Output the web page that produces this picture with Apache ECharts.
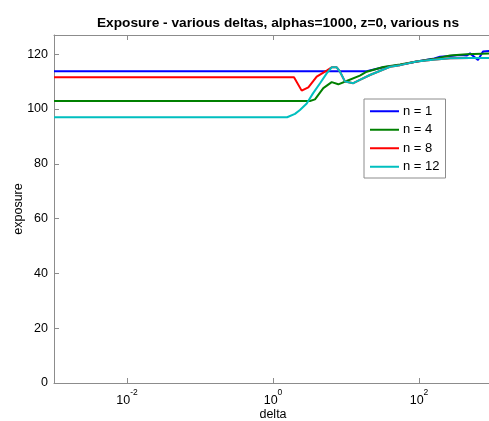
<!DOCTYPE html>
<html>
<head>
<meta charset="utf-8">
<script src="https://cdn.jsdelivr.net/npm/echarts@6/dist/echarts.min.js"></script>
<style>
  html, body { margin: 0; padding: 0; background: #fff; }
  #chart { width: 489px; height: 421px; }
</style>
</head>
<body>
<div id="chart"></div>
<script>
// legend names
const seriesNames = ['n = 1', 'n = 4', 'n = 8', 'n = 12']
const seriesColors = ['#0000ff', '#008000', '#ff0000', '#00bfbf']

// n = 1
const n1Delta = [0.001, 19.2, 32.5, 55, 93, 155, 194, 266, 365, 450, 500, 643, 753, 1000]
const n1Exposure = [113.8, 113.8, 115.2, 116.1, 117.3, 118.3, 119.1, 119.3, 119.7, 119.5, 120.3, 117.9, 121.0, 121.3]

// n = 4
const n4Delta = [0.001, 3.21, 3.76, 4.89, 6.37, 7.85, 10.2, 15.5, 19.2, 32.5, 55, 93, 155, 266, 450, 1000]
const n4Exposure = [102.9, 102.9, 103.5, 107.6, 109.8, 109.0, 110.2, 112.2, 113.6, 115.3, 116.2, 117.3, 118.2, 119.5, 120.0, 120.3]

// n = 8
const n8Delta = [0.001, 1.94, 2.47, 3.05, 3.97, 5.44, 6.37, 7.46, 8.28, 9.69, 12.6, 15.5, 21.3, 32.5, 40.1, 55, 93, 155, 266, 500, 1000]
const n8Exposure = [111.6, 111.6, 106.7, 107.9, 111.8, 114.0, 115.2, 115.2, 113.6, 110.0, 109.4, 110.6, 112.4, 114.4, 115.4, 116.0, 117.3, 118.0, 118.5, 118.6, 118.6]

// n = 12
const n12Delta = [0.001, 1.56, 2.0, 2.34, 2.9, 3.53, 4.41, 5.44, 6.37, 7.46, 8.28, 9.69, 12.6, 15.5, 21.3, 32.5, 40.1, 55, 93, 155, 266, 500, 1000]
const n12Exposure = [97.0, 97.0, 98.2, 99.6, 102.0, 105.7, 109.4, 113.0, 115.2, 115.2, 113.6, 110.0, 109.4, 110.6, 112.4, 114.4, 115.4, 116.0, 117.3, 118.0, 118.5, 118.6, 118.6]

// tick labels
const xTickValues = [0.01, 1, 100]
const yTicks = [0, 20, 40, 60, 80, 100, 120]

const font = 'Liberation Sans, Arial, Helvetica, sans-serif'
const axisGray = '#8c8c8c'

const zip = (xs, ys) => xs.map((x, i) => [x, ys[i]])
const allDeltas = [n1Delta, n4Delta, n8Delta, n12Delta]
const allValues = [n1Exposure, n4Exposure, n8Exposure, n12Exposure]

const chart = echarts.init(document.getElementById('chart'))

const xBase = {
    type: 'log',
    logBase: 10,
    min: 0.001,
    max: 1000,
    axisLine: { show: true, lineStyle: { color: axisGray, width: 1 } },
    axisTick: { show: true, inside: true, length: 5, customValues: xTickValues, lineStyle: { color: axisGray } },
    splitLine: { show: false },
    minorTick: { show: false }
}

chart.setOption({
    animation: false,
    backgroundColor: '#fff',
    title: {
        text: 'Exposure - various deltas, alphas=1000, z=0, various ns',
        left: 273,
        textAlign: 'center',
        top: 11,
        textStyle: { fontFamily: font, fontSize: 13.7, fontWeight: 'bold', color: '#000' }
    },
    legend: {
        data: seriesNames,
        orient: 'vertical',
        left: 364,
        top: 99,
        padding: [3, 6, 2, 6],
        itemGap: 0,
        itemWidth: 29,
        itemHeight: 2,
        icon: 'rect',
        borderColor: axisGray,
        borderWidth: 1,
        backgroundColor: '#fff',
        textStyle: { fontFamily: font, fontSize: 13, color: '#000', lineHeight: 18.5, padding: [0, 0, 0, -1] }
    },
    grid: { left: 54, top: 35, width: 438, height: 348, containLabel: false, outerBoundsMode: 'none' },
    xAxis: [
        Object.assign({}, xBase, {
            position: 'bottom',
            name: 'delta',
            nameLocation: 'middle',
            nameGap: 25,
            nameMoveOverlap: false,
            nameTextStyle: { fontFamily: font, fontSize: 12.5, color: '#000' },
            axisLabel: {
                customValues: xTickValues,
                margin: 5,
                formatter: v => '{b|10}{s|' + Math.round(Math.log10(v)) + '}',
                rich: {
                    b: { fontFamily: font, fontSize: 12.5, color: '#000', verticalAlign: 'bottom' },
                    s: { fontFamily: font, fontSize: 8.5, color: '#000', verticalAlign: 'bottom', padding: [0, 0, 10, 0] }
                }
            }
        }),
        Object.assign({}, xBase, {
            position: 'top',
            axisLabel: { show: false }
        })
    ],
    yAxis: {
        type: 'value',
        min: 0,
        max: 127,
        interval: 20,
        name: 'exposure',
        nameLocation: 'middle',
        nameGap: 29,
        nameMoveOverlap: false,
        nameTextStyle: { fontFamily: font, fontSize: 12.5, color: '#000' },
        axisLine: { show: true, lineStyle: { color: axisGray, width: 1 } },
        axisTick: { show: true, inside: true, length: 5, customValues: yTicks, lineStyle: { color: axisGray } },
        axisLabel: {
            customValues: yTicks,
            margin: 6,
            fontFamily: font,
            fontSize: 12.5,
            color: '#000'
        },
        splitLine: { show: false }
    },
    series: seriesNames.map((name, i) => ({
        name,
        type: 'line',
        showSymbol: false,
        symbol: 'none',
        color: seriesColors[i],
        lineStyle: { width: 2, color: seriesColors[i] },
        data: zip(allDeltas[i], allValues[i])
    }))
})

window.addEventListener('resize', () => chart.resize())
</script>
</body>
</html>
